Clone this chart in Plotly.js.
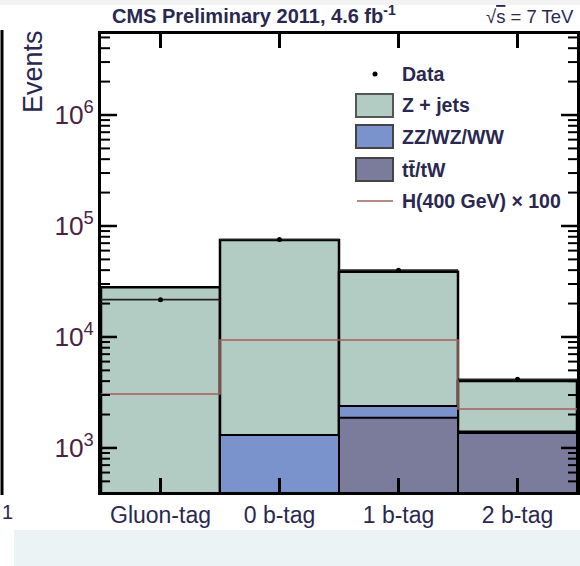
<!DOCTYPE html>
<html>
<head>
<meta charset="utf-8">
<script src="https://cdn.plot.ly/plotly-3.0.1.min.js"></script>
<style>html,body{margin:0;padding:0;background:#fff;}#chart{width:580px;height:566px;}</style>
</head>
<body>
<div id="chart"></div>
<script>
// ---- data ----
var categories = ['Gluon-tag', '0 b-tag', '1 b-tag', '2 b-tag'];
var dataEvents = [21700, 75500, 40000, 4150];
var zjets      = [27790, 73490, 36310, 2610];
var dibosons   = [150, 1060, 515, 45];
var ttbar      = [60, 250, 1875, 1365];
var higgs100   = [3060, 9400, 9400, 2240];
var binHalfWidth = [0.5, 0.5, 0.5, 0.5];

// ---- derived stacking ----
var idx = categories.map(function (c, i) { return i; });
var stackVV = idx.map(function (i) { return ttbar[i] + dibosons[i]; });
var stackAll = idx.map(function (i) { return ttbar[i] + dibosons[i] + zjets[i]; });
var edges = idx.map(function (i) { return i - 0.5; }).concat([categories.length - 0.5]);
var higgsStep = higgs100.concat([higgs100[higgs100.length - 1]]);

var colZ = '#b2cbc3', colVV = '#7a93cc', colTT = '#7b7b9c', colH = '#a6605a';
var txt = '#2a2850';
var font = 'Liberation Sans, Arial, Helvetica, sans-serif';
var yRange = [2.603, 6.73];

// axis tick positions (decoration)
var majorTicks = [], minorTicks = [];
for (var d = 2; d <= 6; d++) {
  if (d >= 3) majorTicks.push(Math.pow(10, d));
  for (var k = 2; k <= 9; k++) minorTicks.push(k * Math.pow(10, d));
}
function yFrac(v) { return (Math.log(v) / Math.LN10 - yRange[0]) / (yRange[1] - yRange[0]); }

var traces = [
  {type: 'bar', x: idx, y: stackAll, width: 1, name: 'Z + jets',
   marker: {color: colZ, line: {color: 'black', width: 2.5}}, showlegend: false, hoverinfo: 'skip'},
  {type: 'bar', x: idx, y: stackVV, width: 1, name: 'ZZ/WZ/WW',
   marker: {color: colVV, line: {color: 'black', width: 2}}, showlegend: false, hoverinfo: 'skip'},
  {type: 'bar', x: idx, y: ttbar, width: 1, name: 'tt̄/tW',
   marker: {color: colTT, line: {color: 'black', width: 2}}, showlegend: false, hoverinfo: 'skip'},
  {type: 'scatter', mode: 'lines', x: edges, y: higgsStep, line: {shape: 'hv', color: colH, width: 1.6},
   name: 'H(400 GeV) × 100', showlegend: false, hoverinfo: 'skip'},
  {type: 'scatter', mode: 'markers', x: idx, y: dataEvents, name: 'Data',
   marker: {color: 'black', size: 5},
   error_x: {type: 'data', array: binHalfWidth, visible: true, width: 0, thickness: 1.6, color: '#222'},
   showlegend: false, hoverinfo: 'skip'}
];

// pixel -> paper helpers (plot area: x 101..577, y 34..492)
var PW = 476, PH = 458;
function px(x) { return (x - 101) / PW; }
function py(y) { return (492 - y) / PH; }

var shapes = [
  {type: 'rect', xref: 'paper', yref: 'paper', x0: px(-5), x1: px(585), y0: py(5), y1: py(-5), fillcolor: '#f2f2f2', line: {width: 0}, layer: 'below'},
  {type: 'rect', xref: 'paper', yref: 'paper', x0: px(14), x1: px(585), y0: py(570), y1: py(530), fillcolor: '#ecf3f4', line: {width: 0}, layer: 'below'},
  {type: 'line', xref: 'paper', yref: 'paper', x0: px(2), x1: px(2), y0: py(495), y1: py(30), line: {color: 'black', width: 3}},
  // legend
  {type: 'circle', xref: 'paper', yref: 'paper', x0: px(372.5), x1: px(377.5), y0: py(76.5), y1: py(71.5), fillcolor: 'black', line: {width: 0}},
  {type: 'rect', xref: 'paper', yref: 'paper', x0: px(356), x1: px(393), y0: py(117), y1: py(94), fillcolor: colZ, line: {color: '#555', width: 2}},
  {type: 'rect', xref: 'paper', yref: 'paper', x0: px(356), x1: px(393), y0: py(148), y1: py(125), fillcolor: colVV, line: {color: '#444', width: 2}},
  {type: 'rect', xref: 'paper', yref: 'paper', x0: px(356), x1: px(393), y0: py(181), y1: py(158), fillcolor: colTT, line: {color: '#444', width: 2}},
  {type: 'line', xref: 'paper', yref: 'paper', x0: px(357), x1: px(393), y0: py(201), y1: py(201), line: {color: colH, width: 1.6}}
];

// tick marks as paper-referenced line shapes
function yTick(v, len, w) {
  var f = yFrac(v);
  if (f < 0.003 || f > 0.997) return;
  shapes.push({type: 'line', xref: 'paper', yref: 'paper', x0: 0, x1: len / PW, y0: f, y1: f, line: {color: 'black', width: w}});
  shapes.push({type: 'line', xref: 'paper', yref: 'paper', x0: 1 - len / PW, x1: 1, y0: f, y1: f, line: {color: 'black', width: w}});
}
majorTicks.forEach(function (v) { yTick(v, 16, 2.5); });
minorTicks.forEach(function (v) { yTick(v, 9, 2); });
idx.forEach(function (i) {
  shapes.push({type: 'line', xref: 'x', yref: 'paper', x0: i, x1: i, y0: 0, y1: 14 / PH, line: {color: 'black', width: 2.5}});
  shapes.push({type: 'line', xref: 'x', yref: 'paper', x0: i, x1: i, y0: 1 - 14 / PH, y1: 1, line: {color: 'black', width: 2.5}});
});

function legText(t, y) {
  return {xref: 'paper', yref: 'paper', x: px(400), y: py(y), xanchor: 'left', yanchor: 'middle',
          text: '<b>' + t + '</b>', showarrow: false, font: {family: font, size: 19.5, color: txt}};
}

var annotations = [
  legText('Data', 74),
  legText('Z + jets', 105),
  legText('ZZ/WZ/WW', 137),
  legText('tt̄/tW', 170),
  legText('H(400 GeV) × 100', 201),
  {xref: 'paper', yref: 'paper', x: px(576), y: py(16), xanchor: 'right', yanchor: 'middle',
   text: '√<span style="text-decoration:overline">s</span> = 7 TeV', showarrow: false, font: {family: font, size: 18.5, color: txt}},
  {xref: 'paper', yref: 'paper', x: px(33), y: py(72), xanchor: 'center', yanchor: 'middle', textangle: -90,
   text: 'Events', showarrow: false, font: {family: font, size: 27, color: txt}},
  {xref: 'paper', yref: 'paper', x: px(0), y: py(512), xanchor: 'left', yanchor: 'middle',
   text: '1', showarrow: false, font: {family: font, size: 20, color: txt}}
];

var layout = {
  width: 580, height: 566,
  margin: {l: 101, r: 3, t: 34, b: 74},
  barmode: 'overlay', bargap: 0,
  showlegend: false,
  title: {text: '<b>CMS Preliminary 2011, 4.6 fb<sup>-1</sup></b>', x: 112 / 580, xanchor: 'left',
          xref: 'container', yref: 'container', y: 1 - 16 / 566, yanchor: 'middle',
          font: {family: font, size: 20, color: txt}},
  xaxis: {range: [-0.5, 3.5], tickmode: 'array', tickvals: idx, ticktext: categories,
          ticks: 'inside', ticklen: 14, tickwidth: 2.5, tickcolor: 'black', mirror: 'ticks',
          showline: true, linewidth: 3, linecolor: 'black',
          showgrid: false, zeroline: false,
          tickfont: {family: font, size: 23, color: txt}},
  yaxis: {type: 'log', range: yRange, dtick: 1, exponentformat: 'power',
          ticks: 'inside', ticklen: 16, tickwidth: 2.5, tickcolor: 'black', mirror: 'ticks',
          showline: true, linewidth: 3, linecolor: 'black',
          showgrid: false, zeroline: false,
          tickfont: {family: font, size: 21, color: '#4a2244'}},
  shapes: shapes,
  annotations: annotations
};

Plotly.newPlot('chart', traces, layout, {displayModeBar: false, staticPlot: true});
</script>
</body>
</html>
